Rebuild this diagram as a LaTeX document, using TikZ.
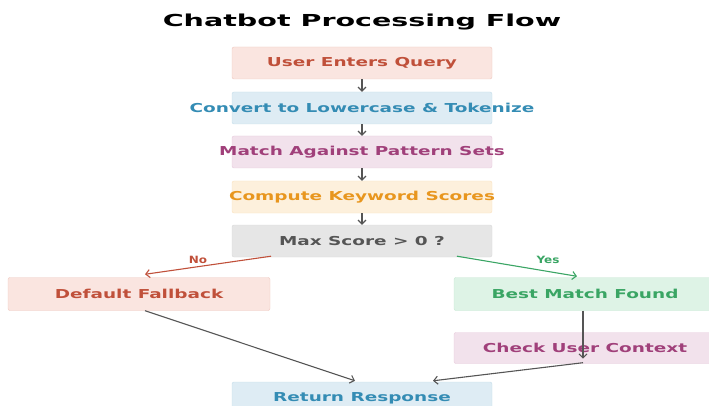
\documentclass[tikz,border=0pt]{standalone}
\usepackage{fontspec}
\setmainfont{DejaVu Sans}
\newfontfamily\boxfont{DejaVu Sans}[FakeStretch=1.5]
\newfontfamily\titlefont{DejaVu Sans}[FakeStretch=1.73]
\newfontfamily\labfont{DejaVu Sans}[FakeStretch=1.2]
\usetikzlibrary{arrows.meta,calc}

\definecolor{redtxt}{RGB}{192,80,58}
\definecolor{redbg}{RGB}{250,229,224}
\definecolor{bluetxt}{RGB}{52,140,180}
\definecolor{bluebg}{RGB}{222,236,244}
\definecolor{magtxt}{RGB}{160,64,122}
\definecolor{magbg}{RGB}{242,226,236}
\definecolor{orgtxt}{RGB}{232,150,30}
\definecolor{orgbg}{RGB}{253,240,220}
\definecolor{graytxt}{RGB}{85,85,85}
\definecolor{graybg}{RGB}{230,230,230}
\definecolor{grntxt}{RGB}{58,165,100}
\definecolor{grnbg}{RGB}{222,243,230}

% text that may run past the edge of its box
\newcommand{\ctr}[1]{\makebox[0pt][c]{#1}}

\begin{document}
\begin{tikzpicture}[x=1pt,y=-1pt]
\useasboundingbox (0,0) rectangle (709,406);
\tikzstyle{every node}=[font=\boxfont\fontsize{12.3}{14}\selectfont\bfseries];
\tikzstyle{box}=[rounded corners=2pt, minimum width=260pt, minimum height=32pt, inner sep=0pt];
\tikzstyle{flow}=[draw=graytxt, line width=1.1pt, -{Straight Barb[length=4pt,width=8pt]}];

\node[anchor=base, font=\titlefont\fontsize{16.5}{20}\selectfont\bfseries] (title) at (362,27) {Chatbot Processing Flow};

% main column
\draw (362,63) node[box, fill=redbg, draw=redbg!80!redtxt, text=redtxt] (query) {\ctr{User Enters Query}};
\draw (362,108) node[box, fill=bluebg, draw=bluebg!85!bluetxt, text=bluetxt] (lower) {\ctr{Convert to Lowercase \& Tokenize}};
\draw (362,152) node[box, fill=magbg, draw=magbg!85!magtxt, text=magtxt] (match) {\ctr{Match Against Pattern Sets}};
\draw (362,197) node[box, fill=orgbg, draw=orgbg!85!orgtxt, text=orgtxt] (score) {\ctr{Compute Keyword Scores}};
\draw (362,241) node[box, fill=graybg, draw=graybg!90!graytxt, text=graytxt] (maxs) {\ctr{Max Score > 0 ?}};

\draw[flow] (query) -- (lower);
\draw[flow] (lower) -- (match);
\draw[flow] (match) -- (score);
\draw[flow] (score) -- (maxs);

% branches
\draw (139,294) node[box, minimum width=262pt, minimum height=33pt, fill=redbg, draw=redbg!80!redtxt, text=redtxt] (fallback) {\ctr{Default Fallback}};
\draw (585,294) node[box, minimum width=262pt, minimum height=33pt, fill=grnbg, draw=grnbg!85!grntxt, text=grntxt] (best) {\ctr{Best Match Found}};
\draw (585,348) node[box, minimum width=262pt, minimum height=31pt, fill=magbg, draw=magbg!85!magtxt, text=magtxt] (check) {\ctr{Check User Context}};
\draw (362,398) node[box, fill=bluebg, draw=bluebg!85!bluetxt, text=bluetxt] (ret) {\ctr{Return Response}};

\coordinate (nostart) at ($(maxs.south)+(-91,-1)$);
\coordinate (yesstart) at ($(maxs.south)+(95,-1)$);
\draw[flow, draw=redtxt] (nostart) -- ($(fallback.north)+(6,-3)$);
\draw[flow, draw=grntxt] (yesstart) -- ($(best.north)+(-8,-1)$);
\node[text=redtxt, font=\labfont\fontsize{10}{12}\selectfont\bfseries] (no) at (198,260) {No};
\node[text=grntxt, font=\labfont\fontsize{10}{12}\selectfont\bfseries] (yes) at (548,260) {Yes};

\coordinate (ctx) at ($(check.south)+(-2,-5)$);
\draw[flow] ($(best.south)+(-2,0)$) -- (ctx);
\draw[flow] ($(fallback.south)+(6,0)$) -- ($(ret.north)+(-7,-1)$);
\draw[flow] ($(check.south)+(-2,-1)$) -- ($(ret.north)+(71,-1)$);
\end{tikzpicture}
\end{document}
